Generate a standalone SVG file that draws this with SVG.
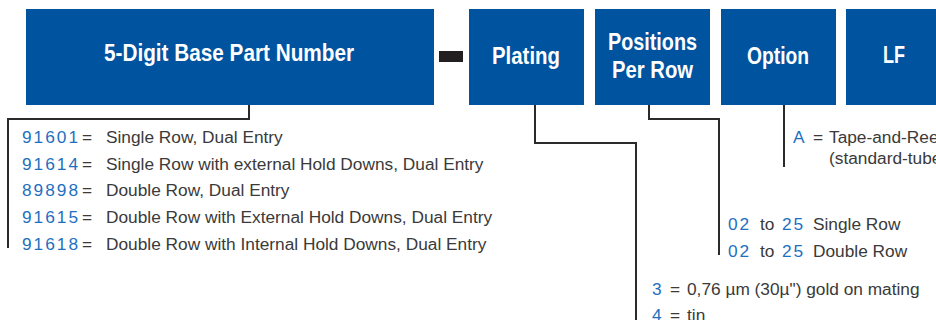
<svg xmlns="http://www.w3.org/2000/svg" width="936" height="320" viewBox="0 0 936 320">
<style>
.box{fill:#00539f}
.bt{font-family:"Liberation Sans",Arial,sans-serif;font-weight:bold;font-size:24px;fill:#fff}
.t{font-family:"Liberation Sans",Arial,sans-serif;font-size:17.3px;fill:#3a3a3a}
.n{fill:#1f6fbf;letter-spacing:2px}
.c{fill:none;stroke:#2b2b2b;stroke-width:2}
</style>
<rect width="936" height="320" fill="#fff"/>
<g id="base">
<rect class="box" x="26" y="9" width="408" height="96"/>
<text class="bt" x="104" y="61" font-size="25" textLength="250" lengthAdjust="spacingAndGlyphs">5-Digit Base Part Number</text>
</g>
<g id="dash"><rect x="439" y="51" width="24" height="11" fill="#231f20"/></g>
<g id="plating">
<rect class="box" x="469" y="9" width="115" height="96"/>
<text class="bt" x="492" y="64" textLength="68" lengthAdjust="spacingAndGlyphs">Plating</text>
</g>
<g id="positions">
<rect class="box" x="595" y="9" width="115" height="96"/>
<text class="bt" x="608" y="50" textLength="89" lengthAdjust="spacingAndGlyphs">Positions</text>
<text class="bt" x="612" y="78" textLength="81" lengthAdjust="spacingAndGlyphs">Per Row</text>
</g>
<g id="option">
<rect class="box" x="721" y="9" width="115" height="96"/>
<text class="bt" x="747" y="64" textLength="62" lengthAdjust="spacingAndGlyphs">Option</text>
</g>
<g id="lf">
<rect class="box" x="846" y="9" width="100" height="96"/>
<text class="bt" x="883" y="63" textLength="22" lengthAdjust="spacingAndGlyphs">LF</text>
</g>
<g id="connectors">
<polyline class="c" points="249,105 249,119 8,119 8,248"/>
<polyline class="c" points="535,105 535,143 636,143 636,320"/>
<polyline class="c" points="649,105 649,119 719,119 719,255"/>
<polyline class="c" points="784,105 784,167"/>
</g>
<g id="base-options" class="t">
<text x="22" y="143"><tspan class="n">91601</tspan></text><text x="82" y="143">=</text><text x="106" y="143">Single Row, Dual Entry</text>
<text x="22" y="169.7"><tspan class="n">91614</tspan></text><text x="82" y="169.7">=</text><text x="106" y="169.7">Single Row with external Hold Downs, Dual Entry</text>
<text x="22" y="196.4"><tspan class="n">89898</tspan></text><text x="82" y="196.4">=</text><text x="106" y="196.4">Double Row, Dual Entry</text>
<text x="22" y="223"><tspan class="n">91615</tspan></text><text x="82" y="223">=</text><text x="106" y="223">Double Row with External Hold Downs, Dual Entry</text>
<text x="22" y="249.6"><tspan class="n">91618</tspan></text><text x="82" y="249.6">=</text><text x="106" y="249.6">Double Row with Internal Hold Downs, Dual Entry</text>
</g>
<g id="option-values" class="t">
<text x="793" y="143"><tspan class="n">A</tspan></text><text x="813" y="143">=</text><text x="829" y="143">Tape-and-Reel</text>
<text x="829" y="164">(standard-tube</text>
</g>
<g id="position-values" class="t">
<text x="728" y="230"><tspan class="n">02</tspan></text><text x="760" y="230">to</text><text x="782" y="230"><tspan class="n">25</tspan></text><text x="813" y="230">Single Row</text>
<text x="728" y="257"><tspan class="n">02</tspan></text><text x="760" y="257">to</text><text x="782" y="257"><tspan class="n">25</tspan></text><text x="813" y="257">Double Row</text>
</g>
<g id="plating-values" class="t">
<text x="652" y="295"><tspan class="n">3</tspan></text><text x="670" y="295">=</text><text x="687" y="295">0,76 µm (30µ") gold on mating</text>
<text x="652" y="321"><tspan class="n">4</tspan></text><text x="670" y="321">=</text><text x="687" y="321">tin</text>
</g>
</svg>
